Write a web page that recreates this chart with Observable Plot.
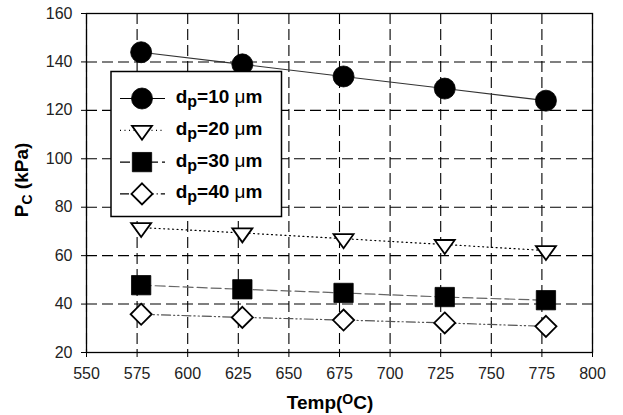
<!DOCTYPE html>
<html>
<head>
<meta charset="utf-8">
<script src="https://cdn.jsdelivr.net/npm/d3@7"></script>
<script src="https://cdn.jsdelivr.net/npm/@observablehq/plot@0.6"></script>
<style>
  body { margin: 0; background: #fff; }
  #chart { position: relative; width: 623px; height: 415px; font-family: "Liberation Sans", Arial, sans-serif; }
</style>
</head>
<body>
<div id="chart"></div>
<script>
// ---- data ----
const temps = [577, 627, 677, 727, 777];
const seriesLabels = ["10", "20", "30", "40"];
const dp10 = [144, 139, 134, 129, 124];
const dp20 = [71.6, 69.4, 67.0, 64.6, 62.1];
const dp30 = [47.8, 46.1, 44.6, 42.9, 41.6];
const dp40 = [35.8, 34.5, 33.4, 32.2, 30.8];
const xTicks = [550, 575, 600, 625, 650, 675, 700, 725, 750, 775, 800];
const yTicks = [20, 40, 60, 80, 100, 120, 140, 160];

// ---- styles ----
const triDown = {
  draw(ctx, size) {
    const r = Math.sqrt(size / Math.PI);
    ctx.moveTo(-r, -0.45 * r);
    ctx.lineTo(r, -0.45 * r);
    ctx.lineTo(0, 0.95 * r);
    ctx.closePath();
  }
};
const styles = [
  {symbol: "circle", r: 10.5, fill: "#000", line: "#333", dash: null, sw: 1.1},
  {symbol: triDown, r: 10, fill: "#fff", line: "#000", dash: "1,3.5", sw: 1.2},
  {symbol: "square", r: 10.9, fill: "#000", line: "#666", dash: "10,4", sw: 1.2},
  {symbol: "diamond2", r: 9.5, fill: "#fff", line: "#555", dash: "9,3,1.2,3,1.2,3", sw: 1.2}
];
const allValues = [dp10, dp20, dp30, dp40];
const rows = allValues.flatMap((vals, s) => temps.map((t, i) => ({temp: t, pc: vals[i], s})));

const marks = [
  Plot.gridX(xTicks, {stroke: "#000", strokeOpacity: 1, strokeWidth: 1.1, strokeDasharray: "11,5"}),
  Plot.gridY(yTicks, {stroke: "#000", strokeOpacity: 1, strokeWidth: 1.1, strokeDasharray: "11,5"}),
  Plot.frame({stroke: "#000", strokeWidth: 1.3}),
  Plot.axisX(xTicks, {tickSize: 5, tickPadding: 10, fontSize: 16, label: null, stroke: "#000", color: "#222"}),
  Plot.axisY(yTicks, {tickSize: 5, tickPadding: 9, fontSize: 16, label: null, stroke: "#000", color: "#222"})
];
styles.forEach((st, s) => {
  const d = rows.filter(r => r.s === s);
  marks.push(Plot.line(d, {x: "temp", y: "pc", stroke: st.line, strokeWidth: st.sw, strokeDasharray: st.dash}));
});
styles.forEach((st, s) => {
  const d = rows.filter(r => r.s === s);
  marks.push(Plot.dot(d, {x: "temp", y: "pc", symbol: () => st.symbol, r: st.r, fill: st.fill, stroke: "#000", strokeWidth: st.fill === "#fff" ? 1.8 : 0.8}));
});

const plot = Plot.plot({
  width: 623,
  height: 415,
  marginLeft: 86,
  marginRight: 31,
  marginTop: 13,
  marginBottom: 63,
  style: {fontFamily: "Liberation Sans, Arial, sans-serif", background: "#fff", color: "#222", overflow: "visible"},
  x: {domain: [550, 800]},
  y: {domain: [20, 160]},
  marks
});
document.getElementById("chart").appendChild(plot);

// ---- axis titles with sub/superscripts ----
const svg = d3.select(plot);
const xt = svg.append("text")
  .attr("x", 330).attr("y", 409)
  .attr("text-anchor", "middle")
  .attr("font-family", "Liberation Sans, Arial, sans-serif")
  .attr("font-weight", "bold").attr("font-size", 19).attr("fill", "#000");
xt.append("tspan").text("Temp(");
xt.append("tspan").attr("font-size", 14).attr("dy", -5).text("O");
xt.append("tspan").attr("dy", 5).text("C)");

const yt = svg.append("text")
  .attr("transform", "translate(28,180) rotate(-90)")
  .attr("text-anchor", "middle")
  .attr("font-family", "Liberation Sans, Arial, sans-serif")
  .attr("font-weight", "bold").attr("font-size", 19).attr("fill", "#000");
yt.append("tspan").text("P");
yt.append("tspan").attr("font-size", 14).attr("dy", 4).text("C");
yt.append("tspan").attr("dy", -4).text(" (kPa)");

// ---- legend (inside plot area, top-left) ----
const lg = svg.append("g").attr("transform", "translate(111,71.5)");
lg.append("rect").attr("width", 170.5).attr("height", 145).attr("fill", "#fff").attr("stroke", "#000").attr("stroke-width", 1.5);
styles.forEach((st, s) => {
  const cy = 27 + s * 31.8;
  const g = lg.append("g").attr("transform", `translate(0,${cy})`);
  g.append("line").attr("x1", 9).attr("x2", 54).attr("y1", 0).attr("y2", 0)
    .attr("stroke", "#000").attr("stroke-width", 1.2).attr("stroke-dasharray", st.dash);
  const symObj = st.symbol === "circle" ? d3.symbolCircle : st.symbol === "square" ? d3.symbolSquare : st.symbol === "diamond2" ? d3.symbolDiamond2 : st.symbol;
  g.append("path").attr("transform", "translate(31,0)")
    .attr("d", d3.symbol(symObj, st.r * st.r * Math.PI)())
    .attr("fill", st.fill).attr("stroke", "#000").attr("stroke-width", st.fill === "#fff" ? 1.8 : 0.8);
  const t = g.append("text").attr("x", 64.7).attr("y", 4.5)
    .attr("text-anchor", "start")
    .attr("font-family", "Liberation Sans, Arial, sans-serif")
    .attr("font-weight", "bold").attr("font-size", 19).attr("fill", "#000");
  t.append("tspan").text("d");
  t.append("tspan").attr("font-size", 16).attr("dy", 4).text("p");
  t.append("tspan").attr("dy", -4).text("=" + seriesLabels[s] + " ");
  t.append("tspan").attr("font-weight", "normal").text("\u03bc");
  t.append("tspan").text("m");
});
</script>
</body>
</html>
